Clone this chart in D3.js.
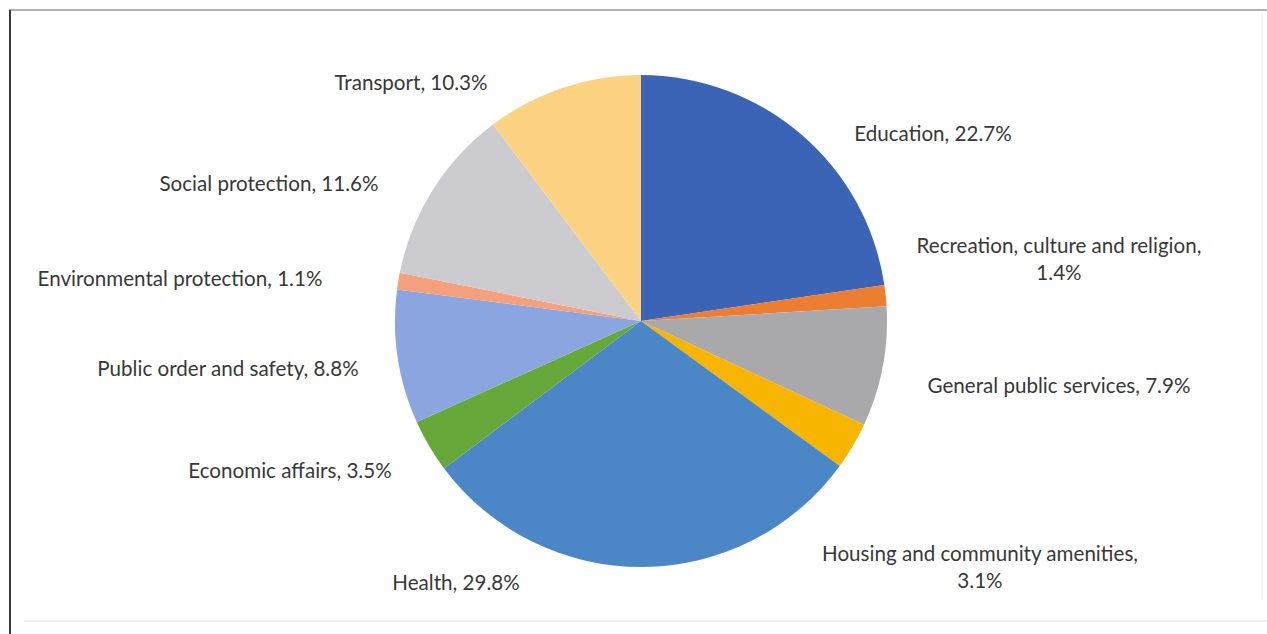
<!DOCTYPE html>
<html>
<head>
<meta charset="utf-8">
<script src="https://cdn.jsdelivr.net/npm/d3@7"></script>
<style>
  html, body { margin: 0; padding: 0; background: #ffffff; }
  svg { display: block; }
  text { font-family: Lato, "Noto Sans", sans-serif; fill: #383838; }
</style>
</head>
<body>
<svg id="chart" width="1267" height="634"></svg>
<script>
// Government expenditure shares by function (%)
const categories = [
  "Education",
  "Recreation, culture and religion",
  "General public services",
  "Housing and community amenities",
  "Health",
  "Economic affairs",
  "Public order and safety",
  "Environmental protection",
  "Social protection",
  "Transport"
];
const shares = [22.7, 1.4, 7.9, 3.1, 29.8, 3.5, 8.8, 1.1, 11.6, 10.3];

// Slice fills, in category order
const sliceColors = [
  "#3c64b6", "#ed7d31", "#a9a9ab", "#f7b500", "#4b87c6",
  "#66a83a", "#8aa5e0", "#f4a07c", "#cbcbd0", "#fcd283"
];

// Label placement: offset of each label block's centre from the pie centre,
// and which labels wrap onto a second line
const labelOffsets = [
  [292, -188], [418, -63], [418, 64], [339, 245], [-185, 261],
  [-351, 149], [-413, 47], [-461, -43], [-372, -138], [-230, -239]
];
const wrapAfterComma = [false, true, false, true, false, false, false, false, false, false];

const svg = d3.select("#chart");
const W = 1267, H = 634;
const cx = 641, cy = 321, radius = 246;

// chart frame
svg.append("line").attr("x1", 9).attr("y1", 10).attr("x2", W).attr("y2", 10)
  .attr("stroke", "#9a9a9a").attr("stroke-width", 1.5);
svg.append("line").attr("x1", 10).attr("y1", 10).attr("x2", 10).attr("y2", H)
  .attr("stroke", "#3a3a3a").attr("stroke-width", 2);
svg.append("line").attr("x1", 1262).attr("y1", 14).attr("x2", 1262).attr("y2", 600)
  .attr("stroke", "#ececec").attr("stroke-width", 1);
svg.append("line").attr("x1", 24).attr("y1", 621).attr("x2", W).attr("y2", 621)
  .attr("stroke", "#e6e6e6").attr("stroke-width", 1);

const data = categories.map((c, i) => ({ name: c, value: shares[i], color: sliceColors[i], i }));

const pie = d3.pie().sort(null).value(d => d.value);
const arc = d3.arc().innerRadius(0).outerRadius(radius);

const g = svg.append("g").attr("transform", `translate(${cx},${cy})`);

g.selectAll("path.slice")
  .data(pie(data))
  .join("path")
  .attr("class", "slice")
  .attr("d", arc)
  .attr("fill", d => d.data.color);

// data labels
const fmt = d3.format(".1f");
const lineH = 27;
const labels = svg.append("g").attr("transform", `translate(${cx},${cy})`);
data.forEach((d, i) => {
  const [ox, oy] = labelOffsets[i];
  const lines = wrapAfterComma[i]
    ? [d.name + ",", fmt(d.value) + "%"]
    : [d.name + ", " + fmt(d.value) + "%"];
  const t = labels.append("text")
    .attr("text-anchor", "middle")
    .attr("font-size", 20.6)
    .attr("dominant-baseline", "central");
  lines.forEach((s, k) => {
    t.append("tspan")
      .attr("x", ox)
      .attr("y", oy + (k - (lines.length - 1) / 2) * lineH)
      .text(s);
  });
});
</script>
</body>
</html>
